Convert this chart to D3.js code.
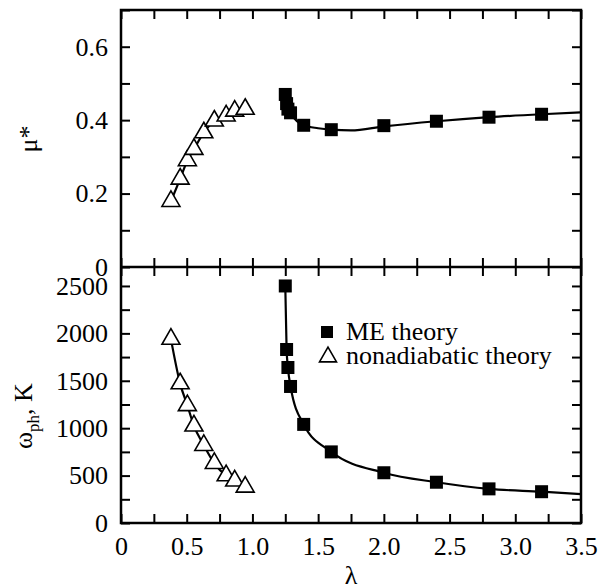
<!DOCTYPE html>
<style>
    body{ margin:0; background:#fff; }
    svg{ font-family:"Liberation Serif","Times New Roman",serif; }
</style>
<svg width="605" height="588"></svg>
<script src="https://cdn.jsdelivr.net/npm/d3@7"></script>
<script>
    // ME theory (filled squares)
    var meLambda=[1.25,1.26,1.27,1.29,1.39,1.6,2.0,2.4,2.8,3.2];
    var meMu=[0.47,0.445,0.43,0.42,0.386,0.374,0.385,0.397,0.408,0.416];
    var meOmega=[2500,1830,1640,1440,1040,750,530,430,360,330];
    // smooth fit lines drawn through the ME points
    var meFitLambda=[1.25,1.27,1.3,1.39,1.5,1.6,1.75,2.0,2.4,2.8,3.2,3.5];
    var meFitMu=[0.47,0.44,0.415,0.386,0.378,0.374,0.372,0.383,0.397,0.408,0.416,0.421];
    var meFitOmLambda=[1.25,1.26,1.27,1.29,1.39,1.6,2.0,2.4,2.8,3.2,3.5];
    var meFitOmega=[2500,1830,1640,1440,1040,750,530,430,360,330,305];
    // nonadiabatic theory (open triangles)
    var naLambda=[0.38,0.45,0.505,0.555,0.63,0.71,0.8,0.865,0.945];
    var naMu=[0.179,0.240,0.290,0.321,0.366,0.398,0.412,0.425,0.430];
    var naOmega=[1940,1470,1240,1025,820,630,500,445,380];

    var xTicks=[0,0.5,1.0,1.5,2.0,2.5,3.0,3.5];
    var muTicks=[0,0.2,0.4,0.6];
    var omTicks=[0,500,1000,1500,2000,2500];

    var svg=d3.select("svg");
    var pLeft=121,pRight=581,pTop=10,pMid=267,pBottom=523,tk=9;

    var x=d3.scaleLinear().domain([0,3.5]).range([pLeft,pRight]);
    var yMu=d3.scaleLinear().domain([0,0.7]).range([pMid,pTop]);
    var yOm=d3.scaleLinear().domain([0,2700]).range([pBottom,pMid]);

    var xMinor=d3.range(0,3.51,0.25);
    var muMinor=d3.range(0,0.71,0.1);
    var omMinor=d3.range(0,2701,250);

    function fmtX(d){ return d===0?"0":d3.format(".1f")(d); }
    function inList(list,fmt){
        return function(d){
            var hit=list.some(function(v){ return Math.abs(v-d)<1e-6; });
            return hit?fmt(d):"";
        };
    }

    function draw(axis,tx,ty){
        var g=svg.append("g")
            .attr("transform","translate("+tx+","+ty+")")
            .call(axis)
            .attr("font-family","Liberation Serif, Times New Roman, serif")
            .attr("font-size",26);
        g.select(".domain").remove();
        g.selectAll(".tick line").attr("stroke","#000").attr("stroke-width",2);
        g.selectAll(".tick text").attr("fill","#000");
        return g;
    }

    // top panel axes
    draw(d3.axisLeft(yMu).tickValues(muMinor).tickSizeInner(-tk).tickSizeOuter(0).tickPadding(13)
        .tickFormat(inList(muTicks,function(d){ return d===0?"0":d3.format(".1f")(d); })),pLeft,0);
    draw(d3.axisRight(yMu).tickValues(muMinor).tickSizeInner(-tk).tickSizeOuter(0).tickFormat(""),pRight,0);
    draw(d3.axisTop(x).tickValues(xMinor).tickSizeInner(-tk).tickSizeOuter(0).tickFormat(""),0,pTop);
    draw(d3.axisBottom(x).tickValues(xMinor).tickSizeInner(-tk).tickSizeOuter(0).tickFormat(""),0,pMid);

    // bottom panel axes
    draw(d3.axisLeft(yOm).tickValues(omMinor).tickSizeInner(-tk).tickSizeOuter(0).tickPadding(13)
        .tickFormat(inList(omTicks,d3.format("d"))),pLeft,0);
    draw(d3.axisRight(yOm).tickValues(omMinor).tickSizeInner(-tk).tickSizeOuter(0).tickFormat(""),pRight,0);
    draw(d3.axisTop(x).tickValues(xMinor).tickSizeInner(-tk).tickSizeOuter(0).tickFormat(""),0,pMid);
    draw(d3.axisBottom(x).tickValues(xMinor).tickSizeInner(-tk).tickSizeOuter(0).tickPadding(14)
        .tickFormat(inList(xTicks,fmtX)),0,pBottom);

    // frame
    svg.append("rect").attr("x",pLeft).attr("y",pTop)
        .attr("width",pRight-pLeft).attr("height",pBottom-pTop)
        .attr("fill","none").attr("stroke","#000").attr("stroke-width",2.5);
    svg.append("line").attr("x1",pLeft).attr("x2",pRight).attr("y1",pMid).attr("y2",pMid)
        .attr("stroke","#000").attr("stroke-width",2.5);

    function curve(xs,ys,yScale){
        var line=d3.line()
            .x(function(d,i){ return x(xs[i]); })
            .y(function(d,i){ return yScale(ys[i]); })
            .curve(d3.curveMonotoneX);
        svg.append("path").attr("d",line(xs))
            .attr("fill","none").attr("stroke","#000").attr("stroke-width",2.2);
    }

    curve(meFitLambda,meFitMu,yMu);
    curve(meFitOmLambda,meFitOmega,yOm);
    curve(naLambda,naMu,yMu);
    curve(naLambda,naOmega,yOm);

    var sq=d3.symbol().type(d3.symbolSquare).size(169);
    var tri=d3.symbol().type(d3.symbolTriangle).size(140);

    function squares(ys,yScale){
        svg.append("g").selectAll("path").data(meLambda).enter().append("path")
            .attr("d",sq)
            .attr("transform",function(d,i){ return "translate("+x(d)+","+yScale(ys[i])+")"; })
            .attr("fill","#000");
    }
    function triangles(ys,yScale){
        svg.append("g").selectAll("path").data(naLambda).enter().append("path")
            .attr("d",tri)
            .attr("transform",function(d,i){ return "translate("+x(d)+","+yScale(ys[i])+")"; })
            .attr("fill","#fff").attr("stroke","#000").attr("stroke-width",1.6);
    }
    squares(meMu,yMu);
    squares(meOmega,yOm);
    triangles(naMu,yMu);
    triangles(naOmega,yOm);

    // legend
    svg.append("path").attr("d",d3.symbol().type(d3.symbolSquare).size(144))
        .attr("transform","translate(327,332)").attr("fill","#000");
    svg.append("path").attr("d",d3.symbol().type(d3.symbolTriangle).size(125))
        .attr("transform","translate(328,357)")
        .attr("fill","#fff").attr("stroke","#000").attr("stroke-width",1.6);
    svg.append("text").attr("x",346).attr("y",340).attr("font-size",26).text("ME theory");
    svg.append("text").attr("x",346).attr("y",364).attr("font-size",26).text("nonadiabatic theory");

    // axis titles
    svg.append("text").attr("x",351).attr("y",584).attr("text-anchor","middle")
        .attr("font-size",26).text("λ");
    svg.append("text").attr("transform","translate(37,139) rotate(-90)")
        .attr("text-anchor","middle").attr("font-size",26).text("μ*");
    var yt=svg.append("text").attr("transform","translate(32,449) rotate(-90)")
        .attr("text-anchor","start").attr("font-size",26);
    yt.append("tspan").text("ω");
    yt.append("tspan").attr("font-size",17).attr("dy",7).text("ph");
    yt.append("tspan").attr("dy",-7).text(", K");
</script>
